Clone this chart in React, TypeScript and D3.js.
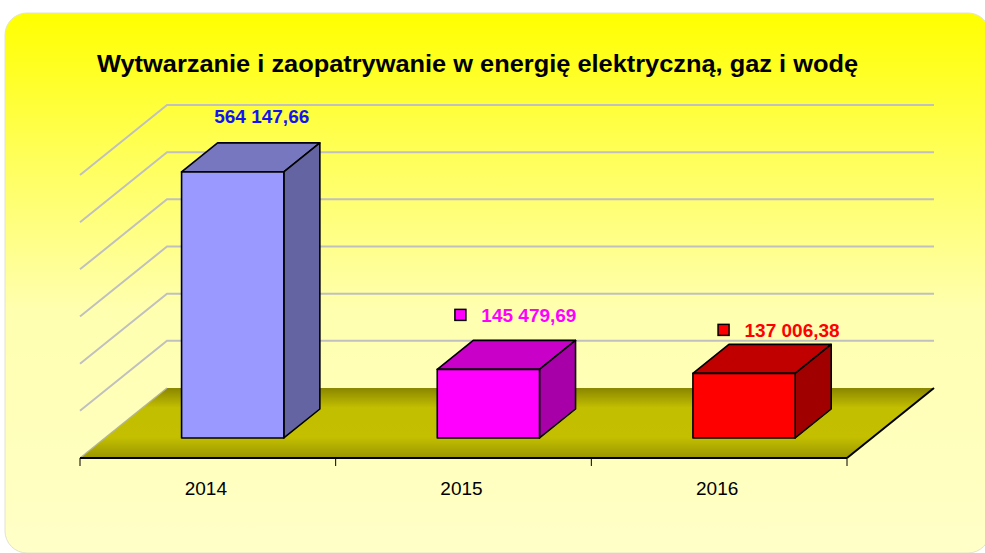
import React from 'react';
import * as d3 from 'd3';

const categories = ['2014', '2015', '2016'];
const values = [564147.66, 145479.69, 137006.38];
const valueLabels = ['564 147,66', '145 479,69', '137 006,38'];
const yTicks = [100000, 200000, 300000, 400000, 500000, 600000];
const frontColors = ['#9999ff', '#ff00ff', '#ff0000'];
const topColors = ['#7777c0', '#c800c8', '#c00000'];
const sideColors = ['#6464a2', '#a800a8', '#a00000'];
const labelColors = ['#1414f0', '#ff00ff', '#ff0000'];
const showKey = [false, true, true];
const title = 'Wytwarzanie i zaopatrywanie w energię elektryczną, gaz i wodę';

// layout (not data)
const W = 985, H = 553;
const DX = 87, DY = 70;
const D0 = 0.286, D1 = 0.7;
const labelDx = [-7, 4.5, 12];
const labelDy = [-20, -18, -7];

export default function App() {
  const x = d3.scaleBand<string>().domain(categories).range([80, 847]).padding(0);
  const y = d3.scaleLinear().domain([0, 600000]).range([458, 175]);
  const P = (xs: number, ys: number, d: number): [number, number] => [xs + d * DX, ys - d * DY];
  const pts = (a: [number, number][]) => a.map(p => p.join(',')).join(' ');
  const x0 = 80, x1 = 847;
  const y0 = y(0);
  const font = '"Liberation Sans", Arial, sans-serif';

  return (
    <svg width={W} height={H} style={{ position: 'absolute', left: 0, top: 0 }} fontFamily={font}>
      <defs>
        <linearGradient id="bg" x1="0" y1="0" x2="0" y2="1">
          <stop offset="0" stopColor="#ffff00" />
          <stop offset="0.25" stopColor="#ffff55" />
          <stop offset="0.55" stopColor="#ffffb0" />
          <stop offset="1" stopColor="#ffffc8" />
        </linearGradient>
        <linearGradient id="floor" x1="0" y1="0" x2="0" y2="1">
          <stop offset="0" stopColor="#8a8600" />
          <stop offset="0.28" stopColor="#c2be00" />
          <stop offset="0.7" stopColor="#c4c000" />
          <stop offset="1" stopColor="#9a9600" />
        </linearGradient>
      </defs>
      <rect x={0} y={0} width={W} height={H} fill="#ffffff" />
      <rect x={5} y={13} width={985} height={540} rx={22} ry={22} fill="url(#bg)" stroke="#e2e2d0" strokeWidth={1} />

      <text x={97} y={72} fontSize={23} fontWeight="bold" fill="#000" textLength={761} lengthAdjust="spacingAndGlyphs">{title}</text>

      {/* floor */}
      <polygon points={pts([P(x0, y0, 0), P(x1, y0, 0), P(x1, y0, 1), P(x0, y0, 1)])} fill="url(#floor)" />
      <line x1={x0} y1={y0} x2={P(x0, y0, 1)[0]} y2={P(x0, y0, 1)[1]} stroke="#b4b49a" strokeWidth={1.2} />

      {/* gridlines */}
      {yTicks.map(t => {
        const a = P(x0, y(t), 0), b = P(x0, y(t), 1), c = P(x1, y(t), 1);
        return (
          <g key={t}>
            <polyline points={pts([a, b, c])} fill="none" stroke="#c0c0c0" strokeWidth={2} />
          </g>
        );
      })}

      {/* bars */}
      {categories.map((cat, i) => {
        const cx = (x(cat) as number) + x.bandwidth() / 2;
        const bw = x.bandwidth() * 0.4;
        const l = cx - bw / 2, r = cx + bw / 2;
        const top = y(values[i]);
        const ft = P(l, top, D0), fr = P(r, top, D0), fb = P(r, y0, D0), fl = P(l, y0, D0);
        const bt = P(l, top, D1), br = P(r, top, D1), bb = P(r, y0, D1);
        return (
          <g key={cat} stroke="#000" strokeWidth={1.6} strokeLinejoin="round">
            <polygon points={pts([ft, fr, br, bt])} fill={topColors[i]} />
            <polygon points={pts([fr, br, bb, fb])} fill={sideColors[i]} />
            <polygon points={pts([ft, fr, fb, fl])} fill={frontColors[i]} />
          </g>
        );
      })}

      {/* value labels */}
      {categories.map((cat, i) => {
        const cx = (x(cat) as number) + x.bandwidth() / 2;
        const [bx, by] = P(cx, y(values[i]), D1);
        const tx = bx + labelDx[i], ty = by + labelDy[i];
        return (
          <g key={'l' + cat}>
            {showKey[i] && (
              <rect x={tx - 74} y={ty - 13} width={11} height={11} fill={frontColors[i]} stroke="#000" strokeWidth={1.5} />
            )}
            <text x={tx} y={ty} textAnchor="middle" fontSize={19} fontWeight="bold" fill={labelColors[i]}>{valueLabels[i]}</text>
          </g>
        );
      })}

      {/* axis */}
      <line x1={P(x1, y0, 0)[0]} y1={y0} x2={P(x1, y0, 1)[0]} y2={P(x1, y0, 1)[1]} stroke="#000" strokeWidth={2} />
      <line x1={x0} y1={y0} x2={x1} y2={y0} stroke="#000" strokeWidth={2} />
      {[...categories.map(c => x(c) as number), x1].map((t, i) => (
        <line key={'t' + i} x1={t} y1={y0} x2={t} y2={y0 + 8} stroke="#000" strokeWidth={1} />
      ))}
      {categories.map(cat => (
        <text key={'c' + cat} x={(x(cat) as number) + x.bandwidth() / 2 - 2} y={495} textAnchor="middle" fontSize={19} fill="#000">{cat}</text>
      ))}
    </svg>
  );
}
